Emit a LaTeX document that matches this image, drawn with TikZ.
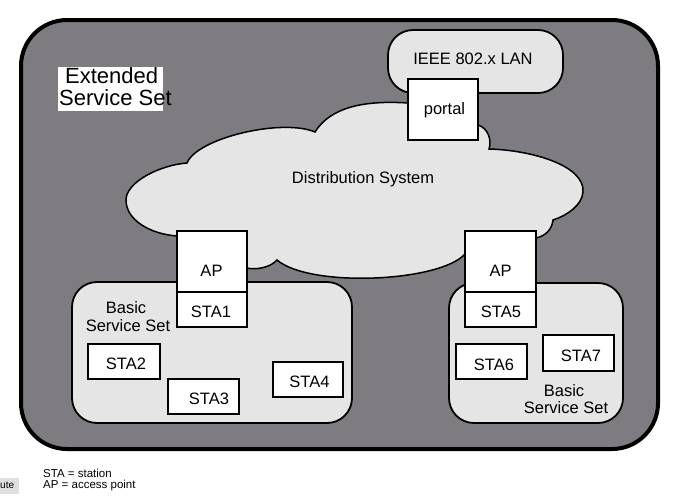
\documentclass[tikz,border=0pt]{standalone}
\usepackage{fontspec}
\setmainfont{Liberation Sans}
\definecolor{essgray}{RGB}{126,124,128}
\definecolor{lightfill}{RGB}{229,229,229}
\begin{document}
\begin{tikzpicture}[x=1pt,y=-1pt,
  essbox/.style={draw=black, line width=4pt, fill=essgray, rounded corners=46pt},
  lanbox/.style={draw=black, line width=1.8pt, fill=lightfill, rounded corners=25pt},
  bssbox/.style={draw=black, line width=1.8pt, fill=lightfill, rounded corners=25pt},
  cloudst/.style={draw=black, line width=1.5pt, fill=lightfill},
  wbox/.style={draw=black, line width=1.5pt, fill=white},
  txt/.style={inner sep=0pt, anchor=base, font=\fontsize{16.5}{18}\selectfont},
  bigtxt/.style={inner sep=0pt, anchor=base west, font=\fontsize{22}{22}\selectfont},
  smalltxt/.style={inner sep=0pt, anchor=base west, font=\fontsize{11.5}{12}\selectfont}
]
\useasboundingbox (0,0) rectangle (676,496);
\fill[white] (0,0) rectangle (676,496);

% Extended service set
\draw[essbox] (21,20) rectangle (658,449);

% LAN
\draw[lanbox] (388,30) rectangle (563,93);

% Distribution system cloud
\draw[cloudst] (126,200)
  .. controls (126,182) and (160,165) .. (187,163)
  .. controls (197,138) and (282,118) .. (315,132)
  .. controls (330,108) and (362,100) .. (408,103)
  -- (478,118) -- (478,125)
  .. controls (488,128) and (492,140) .. (489,149)
  .. controls (530,150) and (585,165) .. (583,192)
  .. controls (582,205) and (568,215) .. (553,220)
  .. controls (552,230) and (545,236) .. (536,238)
  -- (465,254)
  .. controls (440,282) and (310,288) .. (277,260)
  .. controls (270,268) and (255,270) .. (247,268)
  -- (177,236)
  .. controls (150,234) and (126,220) .. (126,200) -- cycle;

% Basic service sets
\draw[bssbox] (72,282) rectangle (352,423);
\draw[bssbox] (449,283) rectangle (623,423);

% white boxes
\draw[wbox] (408,79) rectangle (478,140);
\draw[wbox] (177,231) rectangle (247,292);
\draw[wbox] (177,292) rectangle (247,327);
\draw[wbox] (465,231) rectangle (536,292);
\draw[wbox] (465,292) rectangle (536,327);
\draw[wbox] (88,344) rectangle (160,379);
\draw[wbox] (168,379) rectangle (239,414);
\draw[wbox] (273,362) rectangle (343,397);
\draw[wbox] (456,344) rectangle (527,379);
\draw[wbox] (543,335) rectangle (614,371);

% ESS label
\fill[white] (58,67) rectangle (163,111);
\node[bigtxt] (ess1) at (65,83) {Extended};
\node[bigtxt] (ess2) at (59,105) {Service Set};

% texts
\node[txt] (lan) at (473,64) {IEEE 802.x LAN};
\node[txt] (portal) at (444.5,114) {portal};
\node[txt] (ds) at (363,183) {Distribution System};
\node[txt] (ap1) at (211.5,276) {AP};
\node[txt] (sta1) at (211,317) {STA1};
\node[txt] (bss1a) at (126,313) {Basic};
\node[txt] (bss1b) at (128,331) {Service Set};
\node[txt] (sta2) at (126,369) {STA2};
\node[txt] (sta3) at (209,404) {STA3};
\node[txt] (sta4) at (309.5,387) {STA4};
\node[txt] (ap2) at (500.5,276) {AP};
\node[txt] (sta5) at (501,317) {STA5};
\node[txt] (sta6) at (494,370) {STA6};
\node[txt] (sta7) at (581,361) {STA7};
\node[txt] (bss2a) at (564,396) {Basic};
\node[txt] (bss2b) at (566,413) {Service Set};

% legend
\node[smalltxt] (leg1) at (43,477) {STA = station};
\node[smalltxt] (leg2) at (43,488) {AP = access point};
\fill[black!12] (0,478) rectangle (19,494);
\node[inner sep=0pt, anchor=base west, font=\fontsize{10}{11}\selectfont] (ute) at (0,488) {ute};
\end{tikzpicture}
\end{document}
